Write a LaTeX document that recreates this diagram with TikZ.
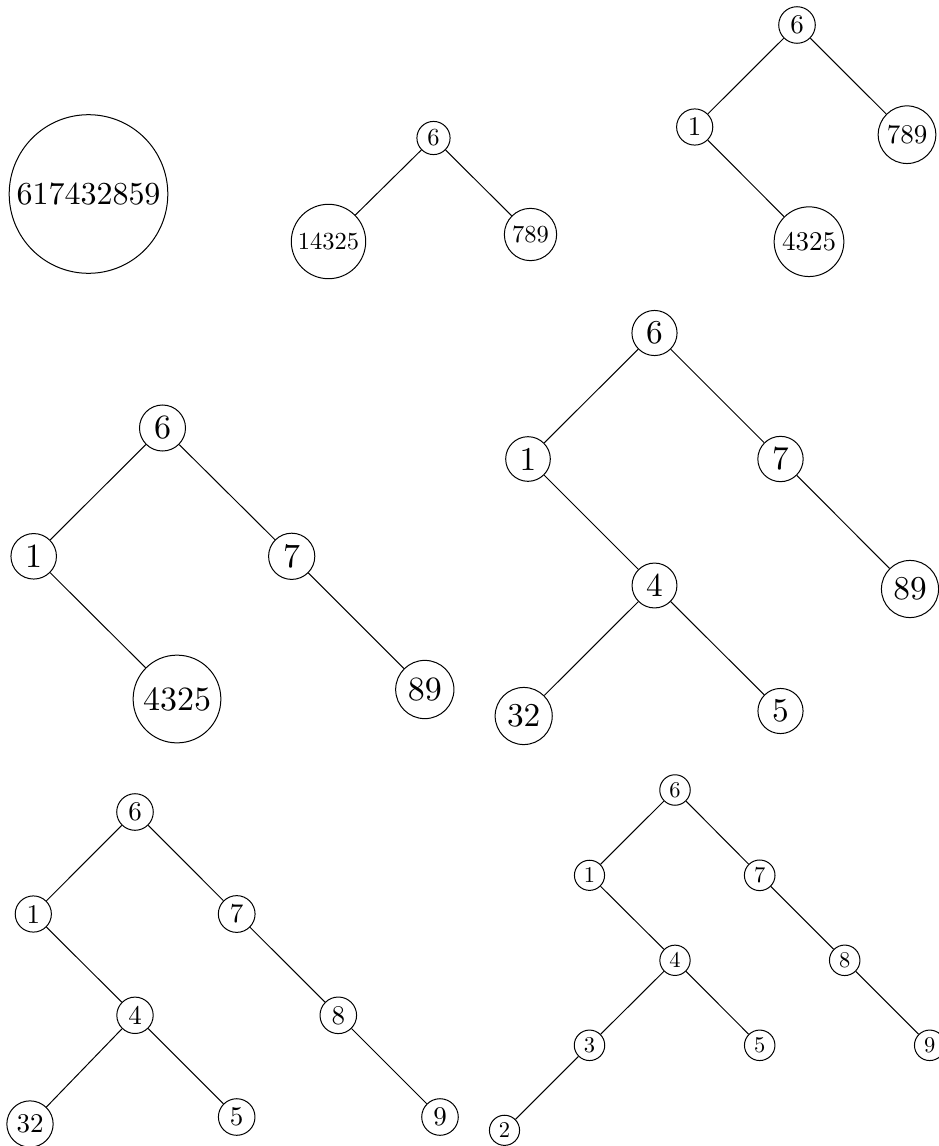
\documentclass[tikz,border=0pt]{standalone}
\usepackage{graphicx}
\newcommand\digitscale{1}
\newcommand\numtxt[1]{\scalebox{\digitscale}{#1}}
\tikzset{
  tn/.style={circle, draw, line width=1pt},
  te/.style={line width=1pt},
}
\begin{document}
\begin{tikzpicture}[x=1pt,y=-1pt]
\useasboundingbox (0,0) rectangle (939,1146);

% the whole sequence in one node
\begin{scope}[tn/.append style={inner sep=5.76pt}]
\renewcommand\digitscale{3.2}
\node[tn] (a) at (88.5,194) {\numtxt{617432859}};
\end{scope}

% first split
\begin{scope}[tn/.append style={inner sep=4.4pt}]
\renewcommand\digitscale{2.45}
\node[tn] (b6) at (433.5,138) {\numtxt{6}};
\node[tn] (bL) at (328.5,241.5) {\numtxt{14325}};
\node[tn] (bR) at (530.5,234.5) {\numtxt{789}};
\draw[te] (b6) -- (bL);
\draw[te] (b6) -- (bR);
\end{scope}

% second split
\begin{scope}[tn/.append style={inner sep=4.86pt}]
\renewcommand\digitscale{2.7}
\node[tn] (c6) at (797,25) {\numtxt{6}};
\node[tn] (c1) at (694.7,127) {\numtxt{1}};
\node[tn] (cR) at (907,134.7) {\numtxt{789}};
\node[tn] (cL) at (809,241.7) {\numtxt{4325}};
\draw[te] (c6) -- (c1);
\draw[te] (c6) -- (cR);
\draw[te] (c1) -- (cL);
\end{scope}

% third split
\begin{scope}[tn/.append style={inner sep=6.1pt}]
\renewcommand\digitscale{3.4}
\node[tn] (d6) at (162.5,428) {\numtxt{6}};
\node[tn] (d1) at (33.7,556.3) {\numtxt{1}};
\node[tn] (d7) at (291.7,556.3) {\numtxt{7}};
\node[tn] (dL) at (177,699) {\numtxt{4325}};
\node[tn] (dR) at (424.8,689.5) {\numtxt{89}};
\draw[te] (d6) -- (d1);
\draw[te] (d6) -- (d7);
\draw[te] (d1) -- (dL);
\draw[te] (d7) -- (dR);
\end{scope}

% fourth split
\begin{scope}[tn/.append style={inner sep=6pt}]
\renewcommand\digitscale{3.33}
\node[tn] (e6) at (654.5,333) {\numtxt{6}};
\node[tn] (e1) at (528,459) {\numtxt{1}};
\node[tn] (e7) at (780.5,459) {\numtxt{7}};
\node[tn] (e4) at (654.5,585.5) {\numtxt{4}};
\node[tn] (eR) at (910,589) {\numtxt{89}};
\node[tn] (eL) at (523.7,716) {\numtxt{32}};
\node[tn] (e5) at (780.5,711) {\numtxt{5}};
\draw[te] (e6) -- (e1);
\draw[te] (e6) -- (e7);
\draw[te] (e1) -- (e4);
\draw[te] (e7) -- (eR);
\draw[te] (e4) -- (eL);
\draw[te] (e4) -- (e5);
\end{scope}

% fifth split
\begin{scope}[tn/.append style={inner sep=4.86pt}]
\renewcommand\digitscale{2.7}
\node[tn] (f6) at (135,812) {\numtxt{6}};
\node[tn] (f1) at (33.3,914) {\numtxt{1}};
\node[tn] (f7) at (236.7,914) {\numtxt{7}};
\node[tn] (f4) at (135,1015.3) {\numtxt{4}};
\node[tn] (f8) at (338.3,1015.3) {\numtxt{8}};
\node[tn] (fL) at (30,1124) {\numtxt{32}};
\node[tn] (f5) at (236.7,1117) {\numtxt{5}};
\node[tn] (f9) at (440,1117) {\numtxt{9}};
\draw[te] (f6) -- (f1);
\draw[te] (f6) -- (f7);
\draw[te] (f1) -- (f4);
\draw[te] (f7) -- (f8);
\draw[te] (f4) -- (fL);
\draw[te] (f4) -- (f5);
\draw[te] (f8) -- (f9);
\end{scope}

% final tree
\begin{scope}[tn/.append style={inner sep=4.05pt}]
\renewcommand\digitscale{2.25}
\node[tn] (g6) at (675,790) {\numtxt{6}};
\node[tn] (g1) at (589.5,875.3) {\numtxt{1}};
\node[tn] (g7) at (759.7,875.3) {\numtxt{7}};
\node[tn] (g4) at (675,960.3) {\numtxt{4}};
\node[tn] (g8) at (844.7,960.3) {\numtxt{8}};
\node[tn] (g3) at (589.5,1045.3) {\numtxt{3}};
\node[tn] (g5) at (759.7,1045.3) {\numtxt{5}};
\node[tn] (g9) at (929.7,1045.3) {\numtxt{9}};
\node[tn] (g2) at (504.5,1130.3) {\numtxt{2}};
\draw[te] (g6) -- (g1);
\draw[te] (g6) -- (g7);
\draw[te] (g1) -- (g4);
\draw[te] (g7) -- (g8);
\draw[te] (g4) -- (g3);
\draw[te] (g4) -- (g5);
\draw[te] (g8) -- (g9);
\draw[te] (g3) -- (g2);
\end{scope}
\end{tikzpicture}
\end{document}
